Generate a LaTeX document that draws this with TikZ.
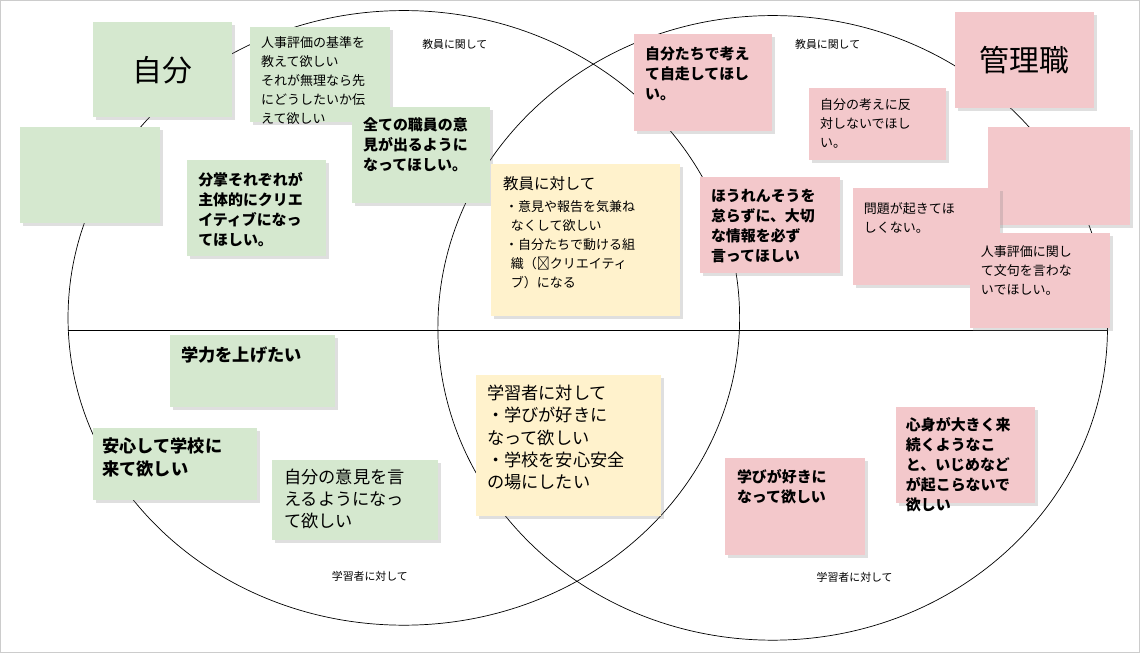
\documentclass[tikz,border=0pt]{standalone}
\usepackage{fontspec}
\setmainfont{Noto Sans CJK JP}
\usetikzlibrary{shadows,shapes.geometric}

\definecolor{notegreen}{HTML}{D5E8CF}
\definecolor{notepink}{HTML}{F3C8CB}
\definecolor{noteyellow}{HTML}{FFF2CC}

\tikzset{
  note/.style = {anchor=north west, inner sep=0pt,
    drop shadow={opacity=0.25, shadow xshift=1.5pt, shadow yshift=-1.5pt}},
  notetext/.style = {anchor=north west, align=left, inner sep=0pt},
  small/.style = {font=\fontsize{7.4}{10.8}\selectfont},
  mid/.style = {font=\fontsize{8.8}{11.6}\selectfont},
  midb/.style = {font=\bfseries\fontsize{8.5}{11.4}\selectfont},
  big/.style = {font=\fontsize{9.8}{12.6}\selectfont},
  bigb/.style = {font=\bfseries\fontsize{9.8}{12.6}\selectfont},
  huge/.style = {font=\fontsize{17}{20}\selectfont},
  tag/.style = {font=\fontsize{6.2}{8}\selectfont, inner sep=0pt}
}

% sticky note: name, colour, x0, y0, x1, y1
\newcommand{\Note}[6]{%
  \node[note, fill=#2, minimum width={(#5-#3)*0.02cm},
    minimum height={(#6-#4)*0.02cm}] (#1) at (#3,#4) {};}

\begin{document}
\begin{tikzpicture}[x=0.02cm, y=-0.02cm]
  \node[draw=gray!40, fill=white, anchor=north west, inner sep=0pt,
    minimum width=22.8cm, minimum height=13.04cm] (frame) at (0,0) {};
  \begin{scope}
    \clip (1,1) rectangle (1139,651);
    \node[draw, ellipse, minimum width=13.44cm, minimum height=12.3cm,
      inner sep=0pt] (me) at (404,318) {};
    \node[draw, ellipse, minimum width=13.4cm, minimum height=12.5cm,
      inner sep=0pt] (boss) at (773,328) {};
  \end{scope}
  \coordinate (midL) at (68,330);
  \coordinate (midR) at (1108,330);
  \draw (midL) -- (midR);

  \node[tag] (tagA) at (455,44) {教員に関して};
  \node[tag] (tagB) at (828,44) {教員に関して};
  \node[tag] (tagC) at (370,577) {学習者に対して};
  \node[tag] (tagD) at (855,578) {学習者に対して};

  % left side
  \Note{self}{notegreen}{93}{22}{232}{117}
  \node[huge] (selft) at (self) {自分};
  \Note{eval}{notegreen}{250}{27}{390}{122}
  \node[notetext, small] (evalt) at (261,36) {人事評価の基準を\\教えて欲しい\\それが無理なら先\\にどうしたいか伝\\えて欲しい};
  \Note{blankG}{notegreen}{20}{127}{160}{223}
  \Note{voice}{notegreen}{352}{107}{490}{203}
  \node[notetext, midb] (voicet) at (363,117) {全ての職員の意\\見が出るように\\なってほしい。};
  \Note{duty}{notegreen}{187}{160}{326}{256}
  \node[notetext, midb] (dutyt) at (198,172) {分掌それぞれが\\主体的にクリエ\\イティブになっ\\てほしい。};
  \Note{skill}{notegreen}{170}{335}{335}{407}
  \node[notetext, bigb] (skillt) at (181,346) {学力を上げたい};
  \Note{safe}{notegreen}{93}{428}{257}{500}
  \node[notetext, bigb] (safet) at (102,438) {安心して学校に\\来て欲しい};
  \Note{speak}{notegreen}{272}{460}{438}{540}
  \node[notetext, big] (speakt) at (284,469) {自分の意見を言\\えるようになっ\\て欲しい};

  % overlap
  \Note{staff}{noteyellow}{491}{164}{680}{316}
  \node[notetext, mid] (stafft) at (503,176) {教員に対して};
  \node[notetext, small] (staffl) at (505,200) {・意見や報告を気兼ね\\\ \ なくして欲しい\\・自分たちで動ける組\\\ \ 織（≒クリエイティ\\\ \ ブ）になる};
  \Note{learner}{noteyellow}{476}{375}{661}{516}
  \node[notetext, big] (learnert) at (487,385) {学習者に対して\\・学びが好きに\\なって欲しい\\・学校を安心安全\\の場にしたい};

  % right side
  \Note{own}{notepink}{634}{34}{772}{131}
  \node[notetext, midb] (ownt) at (645,46) {自分たちで考え\\て自走してほし\\い。};
  \Note{head}{notepink}{955}{12}{1094}{108}
  \node[huge] (headt) at (head) {管理職};
  \Note{oppose}{notepink}{809}{88}{946}{160}
  \node[notetext, small] (opposet) at (820,98) {自分の考えに反\\対しないでほし\\い。};
  \Note{blankP}{notepink}{988}{127}{1130}{225}
  \Note{report}{notepink}{700}{177}{840}{273}
  \node[notetext, midb] (reportt) at (711,189) {ほうれんそうを\\怠らずに、大切\\な情報を必ず\\言ってほしい};
  \Note{trouble}{notepink}{853}{188}{1000}{285}
  \node[notetext, small] (troublet) at (864,202) {問題が起きてほ\\しくない。};
  \Note{claim}{notepink}{970}{233}{1110}{328}
  \node[notetext, small] (claimt) at (981,245) {人事評価に関し\\て文句を言わな\\いでほしい。};
  \Note{enjoy}{notepink}{725}{458}{865}{555}
  \node[notetext, midb] (enjoyt) at (737,469) {学びが好きに\\なって欲しい};
  \Note{health}{notepink}{896}{407}{1035}{503}
  \node[notetext, midb] (healtht) at (906,417) {心身が大きく来\\続くようなこ\\と、いじめなど\\が起こらないで\\欲しい};
\end{tikzpicture}
\end{document}
